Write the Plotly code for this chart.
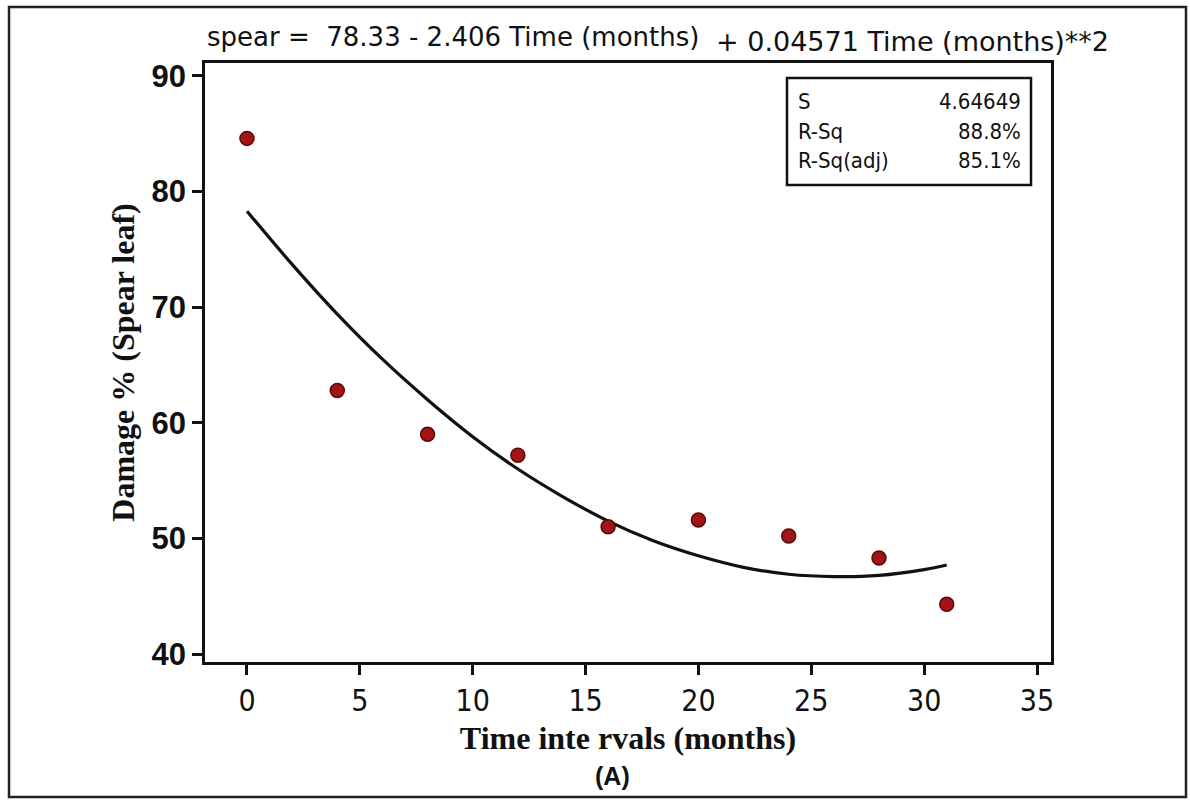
import plotly.graph_objects as go

# Observed data (Time months vs Damage % spear leaf)
time_months = [0, 4, 8, 12, 16, 20, 24, 28, 31]
damage_pct = [84.6, 62.8, 59.0, 57.2, 51.0, 51.6, 50.2, 48.3, 44.3]

# Fitted quadratic curve as drawn
fit_x = [0, 2, 4, 6, 8, 10, 12, 14, 16, 18, 20, 22, 24, 26, 28, 30, 31]
fit_y = [78.3, 73.7, 69.4, 65.5, 62.0, 58.8, 56.0, 53.6, 51.5, 49.8, 48.5, 47.5, 46.9, 46.7, 46.8, 47.3, 47.7]

x_ticks = [0, 5, 10, 15, 20, 25, 30, 35]
y_ticks = [40, 50, 60, 70, 80, 90]

title_part1 = "spear =\u00a0\u00a078.33 - 2.406 Time (months)"
title_part2 = "+ 0.04571 Time (months)**2"
stat_names = ["S", "R-Sq", "R-Sq(adj)"]
stat_values = ["4.64649", "88.8%", "85.1%"]

W, H = 1190, 800
L, R, T, B = 205, 1051, 63, 662  # plot area in pixels


def px(x):
    return (x - L) / (R - L)


def py(y):
    return (B - y) / (B - T)


fig = go.Figure()
fig.add_trace(go.Scatter(
    x=fit_x, y=fit_y, mode="lines",
    line=dict(color="#111111", width=3.2, shape="spline"),
    showlegend=False, hoverinfo="skip"))
fig.add_trace(go.Scatter(
    x=time_months, y=damage_pct, mode="markers",
    marker=dict(size=14, color="#a31414", line=dict(color="#5a0808", width=1.5)),
    showlegend=False))

axis_common = dict(
    showline=True, linecolor="#111111", linewidth=2.5, mirror=True,
    ticks="outside", ticklen=10, tickwidth=2.5, tickcolor="#111111",
    showgrid=False, zeroline=False)

fig.update_xaxes(
    range=[-1.86, 35.62], tickvals=x_ticks, ticktext=[str(v) for v in x_ticks],
    tickfont=dict(family="DejaVu Sans Condensed", size=30, color="#111111"),
    title=dict(text="<b>Time inte rvals (months)</b>",
               font=dict(family="Liberation Serif", size=32, color="#111111"),
               standoff=10),
    **axis_common)
fig.update_yaxes(
    range=[39.31, 91.12], tickvals=y_ticks, ticktext=["<b>%d</b>" % v for v in y_ticks],
    tickfont=dict(family="Liberation Sans", size=31, color="#111111"),
    title=dict(text="<b>Damage % (Spear leaf)</b>",
               font=dict(family="Liberation Serif", size=32, color="#111111"),
               standoff=8),
    **axis_common)

annotations = [
    dict(x=px(205), y=py(37), xref="paper", yref="paper", xanchor="left", yanchor="middle",
         text=title_part1, showarrow=False,
         font=dict(family="DejaVu Sans", size=26, color="#111111")),
    dict(x=px(714), y=py(42), xref="paper", yref="paper", xanchor="left", yanchor="middle",
         text=title_part2, showarrow=False,
         font=dict(family="DejaVu Sans", size=27, color="#111111")),
    dict(x=px(612), y=py(776), xref="paper", yref="paper", xanchor="center", yanchor="middle",
         text="<b>(A)</b>", showarrow=False,
         font=dict(family="Liberation Sans", size=25, color="#111111")),
]
row_y = [102, 131, 160]
for name, val, ry in zip(stat_names, stat_values, row_y):
    annotations.append(dict(x=px(796), y=py(ry), xref="paper", yref="paper",
                            xanchor="left", yanchor="middle", text=name, showarrow=False,
                            font=dict(family="DejaVu Sans Condensed", size=22, color="#111111")))
    annotations.append(dict(x=px(1023), y=py(ry), xref="paper", yref="paper",
                            xanchor="right", yanchor="middle", text=val, showarrow=False,
                            font=dict(family="DejaVu Sans Condensed", size=22, color="#111111")))

shapes = [
    dict(type="rect", xref="paper", yref="paper",
         x0=px(787), x1=px(1031), y0=py(185), y1=py(78),
         line=dict(color="#111111", width=2.5), fillcolor="white", layer="above"),
    dict(type="rect", xref="paper", yref="paper",
         x0=px(9), x1=px(1186), y0=py(797), y1=py(7),
         line=dict(color="#222222", width=2.5), layer="below"),
]

fig.update_layout(
    width=W, height=H,
    margin=dict(l=L, r=W - R, t=T, b=H - B),
    paper_bgcolor="white", plot_bgcolor="white",
    annotations=annotations, shapes=shapes,
)

fig.write_html("out.html")
